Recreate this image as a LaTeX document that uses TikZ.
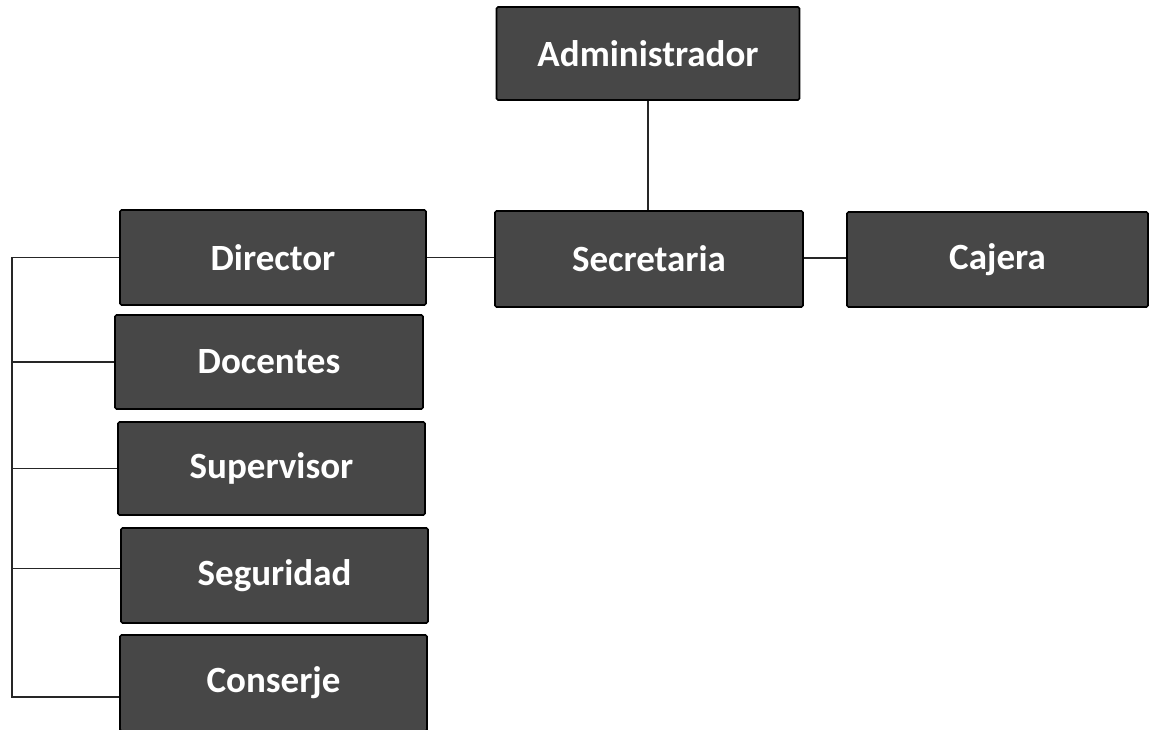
\documentclass[tikz,border=0pt]{standalone}
\usepackage{fontspec}
\setmainfont{Carlito}
\begin{document}
\begin{tikzpicture}[x=1pt,y=-1pt,
  role/.style={draw=black, line width=1.6pt, fill=black!72, rounded corners=1.5pt,
    text=white, font=\fontsize{37}{40}\selectfont\bfseries,
    minimum width=306pt, minimum height=94pt, inner sep=0pt, anchor=center},
  link/.style={draw=black!85, line width=1.3pt}]
\useasboundingbox (0,0) rectangle (1154,729);

% top of the chart
\node[role, minimum width=303pt, minimum height=93pt] (admin) at (648,53.5) {Administrador};

% middle row
\node[role, minimum width=308pt, minimum height=96pt] (secr) at (649,259) {Secretaria};
\node[role, minimum width=301pt, minimum height=95pt] (caja) at (997.5,259.5) {Cajera};
\node[role, minimum height=95pt] (dir) at (273,257.5) {Director};

% staff under the director
\node[role, minimum width=308pt] (doc) at (269,362) {Docentes};
\node[role, minimum width=307pt, minimum height=93pt] (sup) at (271.5,468.5) {Supervisor};
\node[role, minimum width=307pt, minimum height=95pt] (seg) at (274.5,575.5) {Seguridad};
\node[role, minimum width=307pt, minimum height=96pt] (con) at (273.5,683) {Conserje};

% connectors
\draw[link] (admin.south) -- (admin.south |- secr.north);
\draw[link] (dir.east) -- (dir.east -| secr.west);
\draw[link] ([yshift=1pt]secr.east) -- ([yshift=1pt]secr.east -| caja.west);

\coordinate (bus) at (12,257.5);
\draw[link] (dir.west) -- (bus) |- ([yshift=-14pt]con.west);
\draw[link] (doc.west) -- (doc.west -| bus);
\draw[link] (sup.west) -- (sup.west -| bus);
\draw[link] ([yshift=7pt]seg.west) -- ([yshift=7pt]seg.west -| bus);
\end{tikzpicture}
\end{document}
